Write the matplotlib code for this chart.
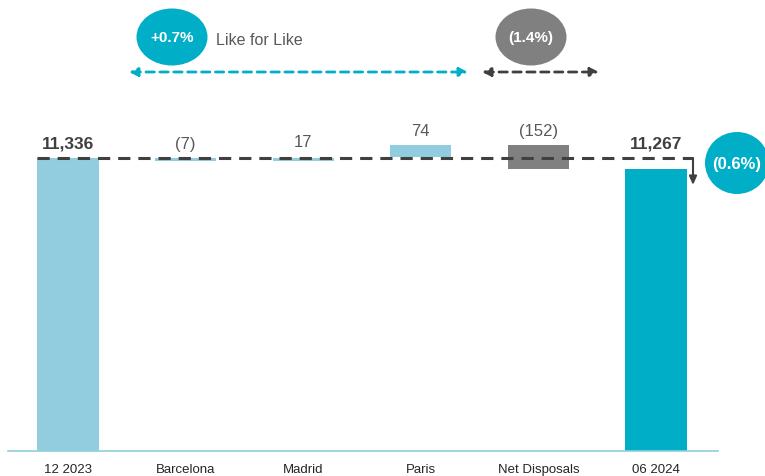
import matplotlib
matplotlib.use("Agg")
import matplotlib.pyplot as plt
from matplotlib.patches import Ellipse
import numpy as np

plt.rcParams['font.family'] = ['Liberation Sans Narrow', 'Liberation Sans', 'DejaVu Sans']

categories = ["12 2023", "Barcelona", "Madrid", "Paris", "Net Disposals", "06 2024"]
start_value = 11336
changes = [-7, 17, 74, -152]
end_value = 11267
value_labels = ["11,336", "(7)", "17", "74", "(152)", "11,267"]
lfl_label = "+0.7%"
disp_label = "(1.4%)"
total_label = "(0.6%)"
lfl_text = "Like for Like"

LIGHT = "#92CDDF"
TEAL = "#00AEC7"
GREY = "#808080"
DARK = "#404040"
TXT = "#595959"

W, H = 765, 477
fig = plt.figure(figsize=(W / 100, H / 100), dpi=100)

# pixel geometry
x0px, dxpx = 68.0, 117.6
ybase_px, yscale = 452.0, 0.155
ymin = 9446.0
ymax = ymin + ybase_px / yscale

ax = fig.add_axes([8 / W, (H - ybase_px) / H, (718 - 8) / W, ybase_px / H])
ax.set_xlim((8 - x0px) / dxpx, (718 - x0px) / dxpx)
ax.set_ylim(ymin, ymax)

def px2d(px, py):
    return (px - x0px) / dxpx, ymin + (ybase_px - py) / yscale

x = np.arange(len(categories))
bw = 0.52

# totals
ax.bar(x[0], start_value - ymin, bottom=ymin, width=bw, color=LIGHT, zorder=2)
ax.bar(x[-1], end_value - ymin, bottom=ymin, width=bw, color=TEAL, zorder=2)

# floating bars
cum = start_value
tops = []
colors = [LIGHT, LIGHT, LIGHT, GREY]
for i, c in enumerate(changes):
    lo, hi = min(cum, cum + c), max(cum, cum + c)
    if hi - lo < 20:
        lo = min(lo, start_value - 18)
        hi = max(lo + 18, min(hi, start_value))
    ax.bar(x[i + 1], hi - lo, bottom=lo, width=bw, color=colors[i], zorder=2)
    tops.append(max(cum, cum + c, start_value))
    cum += c

# labels
off = 12 / yscale * 0.6
ax.text(x[0], start_value + off, value_labels[0], ha="center", va="bottom",
        fontsize=12.5, fontweight="bold", color=DARK, zorder=4)
for i in range(4):
    ax.text(x[i + 1], tops[i] + off, value_labels[i + 1], ha="center", va="bottom",
            fontsize=12, color=TXT, zorder=4)
ax.text(x[-1], start_value + off, value_labels[-1], ha="center", va="bottom",
        fontsize=12.5, fontweight="bold", color=DARK, zorder=4)

# dashed reference line
xa, _ = px2d(37, 0)
xb, _ = px2d(693, 0)
ax.plot([xa, xb], [start_value, start_value], ls=(0, (4, 2.6)), lw=2.2,
        color=DARK, zorder=3, solid_capstyle="butt")
# small down arrow (vertical)
ax.annotate("", xy=(xb, px2d(693, 186)[1]), xytext=(xb, start_value),
            arrowprops=dict(arrowstyle="-|>,head_length=0.5,head_width=0.22",
                            color=DARK, lw=1.5, shrinkA=0, shrinkB=0), zorder=3)

def ell(cx, cy, w, h, color, label, fs=11):
    c = px2d(cx, cy)
    e = Ellipse(c, w / dxpx, h / yscale, facecolor=color, edgecolor="none",
                zorder=5, clip_on=False)
    ax.add_patch(e)
    ax.text(c[0], c[1], label, ha="center", va="center", color="white",
            fontsize=fs, fontweight="bold", zorder=6, clip_on=False)

ell(737, 164, 64, 62, TEAL, total_label, 12)
ell(172, 38, 71, 57, TEAL, lfl_label, 11)
ell(531, 38, 71, 57, GREY, disp_label, 11)
ax.text(*px2d(216, 40), lfl_text, ha="left", va="center", color=TXT, fontsize=11.5)

# dashed double arrows
def darrow(xp1, xp2, yp, color):
    p1 = px2d(xp1, yp)
    p2 = px2d(xp2, yp)
    ax.annotate("", xy=p2, xytext=p1,
                arrowprops=dict(arrowstyle="<|-|>,head_length=0.5,head_width=0.25",
                                color=color, lw=2, ls=(0, (3, 2)),
                                shrinkA=0, shrinkB=0), zorder=3, annotation_clip=False)

darrow(129, 468, 73, TEAL)
darrow(482, 599, 73, DARK)

# axes styling
for s in ["top", "right", "left"]:
    ax.spines[s].set_visible(False)
ax.spines["bottom"].set_color("#8FCFD9")
ax.spines["bottom"].set_linewidth(1.2)
ax.set_yticks([])
ax.set_xticks(x)
ax.set_xticklabels(categories, fontsize=9.5, color="#262626")
ax.tick_params(axis="x", length=0, pad=9)

fig.savefig("out.png", dpi=100)
